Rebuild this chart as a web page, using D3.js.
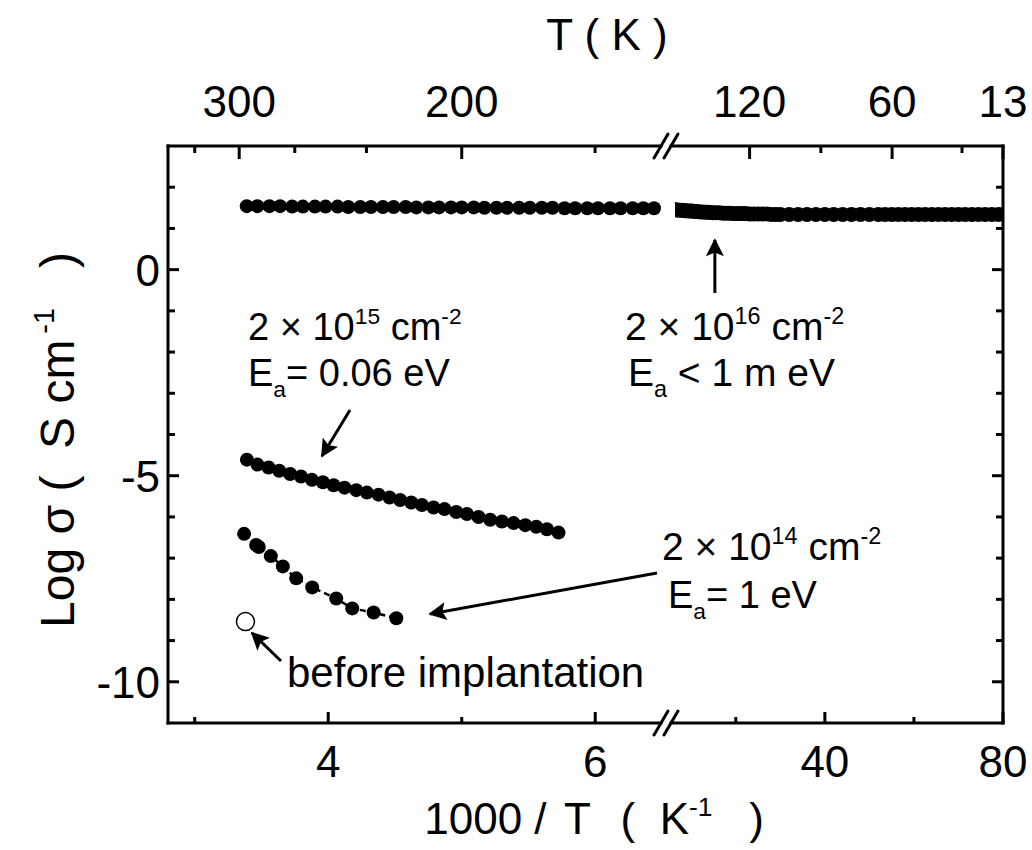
<!DOCTYPE html>
<html><head><meta charset="utf-8">
<script src="https://cdn.jsdelivr.net/npm/d3@7"></script>
<style>
html,body{margin:0;padding:0;background:#fff;}
svg{display:block;font-family:"Liberation Sans",Arial,sans-serif;}
svg text{white-space:pre;}
</style></head>
<body>
<svg id="chart" width="1032" height="850"></svg>
<script>
// ---------------- data ----------------
// 2e16 cm^-2, left (linear) segment
const hiDoseLeftX = [3.39,3.47,3.56,3.64,3.73,3.81,3.90,3.98,4.07,4.15,4.24,4.32,4.41,4.49,4.58,4.66,4.75,4.83,4.92,5.00,5.09,5.17,5.26,5.34,5.43,5.51,5.60,5.68,5.77,5.85,5.94,6.02,6.11,6.19,6.28,6.36,6.44];
const hiDoseLeftY = [1.54,1.54,1.54,1.54,1.53,1.53,1.53,1.53,1.53,1.52,1.52,1.52,1.52,1.52,1.52,1.51,1.51,1.51,1.51,1.51,1.51,1.50,1.50,1.50,1.50,1.50,1.50,1.50,1.49,1.49,1.49,1.49,1.49,1.49,1.49,1.49,1.49];
// 2e16 cm^-2, right segment (low temperature)
const hiDoseRightX = [5.5,6.0,6.5,7.0,7.5,8.0,8.5,9.0,9.6,10.2,10.8,11.4,12.0,12.7,13.4,14.1,14.8,15.5,16.3,17.1,17.9,18.7,19.5,20.4,21.3,22.2,23.1,24.0,25.0,26.0,27.0,28.0,29.0,30.0,32.0,34.0,36.0,38.0,40.0,42.0,44.0,46.0,48.0,50.0,52.0,53.5,55.0,56.5,58.0,59.5,61.0,62.5,64.0,65.5,67.0,68.5,70.0,71.5,73.0,74.5,76.0,77.5,79.0,80.5];
const hiDoseRightY = [1.46,1.46,1.45,1.45,1.44,1.44,1.43,1.43,1.42,1.42,1.41,1.41,1.40,1.40,1.39,1.39,1.38,1.38,1.38,1.37,1.37,1.37,1.36,1.36,1.36,1.36,1.35,1.35,1.35,1.35,1.35,1.34,1.34,1.34,1.34,1.34,1.34,1.34,1.34,1.34,1.34,1.34,1.34,1.34,1.34,1.34,1.34,1.34,1.34,1.34,1.34,1.34,1.34,1.34,1.34,1.34,1.34,1.34,1.34,1.34,1.34,1.34,1.34,1.34];
// 2e15 cm^-2
const midDoseX = [3.391,3.470,3.553,3.633,3.715,3.796,3.878,3.960,4.040,4.122,4.210,4.290,4.377,4.459,4.539,4.622,4.702,4.789,4.871,4.959,5.039,5.126,5.213,5.301,5.388,5.476,5.558,5.638,5.725];
const midDoseY = [-4.61,-4.73,-4.80,-4.88,-4.96,-5.02,-5.10,-5.16,-5.23,-5.29,-5.35,-5.41,-5.46,-5.53,-5.59,-5.65,-5.71,-5.77,-5.81,-5.88,-5.93,-6.00,-6.07,-6.11,-6.15,-6.20,-6.24,-6.30,-6.38];
// 2e14 cm^-2
const lowDoseX = [3.37,3.46,3.48,3.57,3.66,3.76,3.88,4.06,4.18,4.34,4.51];
const lowDoseY = [-6.41,-6.68,-6.73,-6.95,-7.20,-7.49,-7.71,-7.98,-8.22,-8.32,-8.46];
// before implantation
const virginX = [3.38];
const virginY = [-8.54];

// axes ticks
const yMajorTicks = [0,-5,-10];
const yMinorTicks = [2,1,-1,-2,-3,-4,-6,-7,-8,-9];
const xLeftMajor = [4,6];
const xLeftMinor = [3,5];
const xRightMajor = [40,80];
const xRightMinor = [20,60];
// top axis: T (K)
const topLeftMajorT = [300,200];
const topLeftMinorT = [333.3,266.7,233.3,166.7];
const topRightMajorPos = [23.1,55.1,80];
const topRightMajorLabels = ["120","60","13"];
const topRightMinorPos = [39.1,70.8];

// ---------------- layout ----------------
const svg = d3.select("#chart");
const L = 168, R = 1003, T = 146, B = 723;
const brkL = 661, brkR = 671, brkC = 666;
const xL = d3.scaleLinear().domain([2.8,6.5]).range([L,662]);
const xR = d3.scaleLinear().domain([5,80]).range([669,R]);
const y = d3.scaleLinear().domain([-11,3]).range([B,T]);
const FS = 44;
const lw = 3;

const defs = svg.append("defs");
defs.append("clipPath").attr("id","clipL").append("rect").attr("x",L).attr("y",T).attr("width",brkC-L).attr("height",B-T);
defs.append("clipPath").attr("id","clipR").append("rect").attr("x",675).attr("y",T).attr("width",R-675).attr("height",B-T);
defs.append("marker").attr("id","ah").attr("viewBox","0 0 10 10").attr("refX",9).attr("refY",5)
  .attr("markerWidth",8).attr("markerHeight",6).attr("markerUnits","strokeWidth").attr("orient","auto")
  .append("path").attr("d","M0,0 L10,5 L0,10 L2,5 Z").attr("fill","#000");

// ---------------- frame ----------------
const ax = svg.append("g").attr("stroke","#000").attr("stroke-width",lw).attr("fill","none").attr("stroke-linecap","square");
ax.append("line").attr("x1",L).attr("x2",L).attr("y1",T).attr("y2",B);
ax.append("line").attr("x1",R).attr("x2",R).attr("y1",T).attr("y2",B);
[B,T].forEach(yy=>{
  ax.append("line").attr("x1",L).attr("x2",brkL).attr("y1",yy).attr("y2",yy);
  ax.append("line").attr("x1",brkR).attr("x2",R).attr("y1",yy).attr("y2",yy);
});
const bk = svg.append("g").attr("stroke","#000").attr("stroke-width",lw).attr("stroke-linecap","round");
[B,T].forEach(yy=>{
  [-5,5].forEach(dx=>{
    bk.append("line").attr("x1",brkC+dx-7).attr("y1",yy+12).attr("x2",brkC+dx+7).attr("y2",yy-12);
  });
});

// ticks (inward)
const tk = svg.append("g").attr("stroke","#000").attr("stroke-width",lw);
yMajorTicks.forEach(v=>{
  tk.append("line").attr("x1",L).attr("x2",L+11).attr("y1",y(v)).attr("y2",y(v));
  tk.append("line").attr("x1",R).attr("x2",R-11).attr("y1",y(v)).attr("y2",y(v));
});
yMinorTicks.forEach(v=>{
  tk.append("line").attr("x1",L).attr("x2",L+7).attr("y1",y(v)).attr("y2",y(v));
  tk.append("line").attr("x1",R).attr("x2",R-7).attr("y1",y(v)).attr("y2",y(v));
});
xLeftMajor.forEach(v=>tk.append("line").attr("x1",xL(v)).attr("x2",xL(v)).attr("y1",B).attr("y2",B-11));
xLeftMinor.forEach(v=>tk.append("line").attr("x1",xL(v)).attr("x2",xL(v)).attr("y1",B).attr("y2",B-6));
xRightMajor.forEach(v=>tk.append("line").attr("x1",xR(v)).attr("x2",xR(v)).attr("y1",B).attr("y2",B-11));
xRightMinor.forEach(v=>tk.append("line").attr("x1",xR(v)).attr("x2",xR(v)).attr("y1",B).attr("y2",B-6));
topLeftMajorT.forEach(t=>tk.append("line").attr("x1",xL(1000/t)).attr("x2",xL(1000/t)).attr("y1",T).attr("y2",T+13));
topLeftMinorT.forEach(t=>tk.append("line").attr("x1",xL(1000/t)).attr("x2",xL(1000/t)).attr("y1",T).attr("y2",T+7));
topRightMajorPos.forEach(p=>tk.append("line").attr("x1",xR(p)).attr("x2",xR(p)).attr("y1",T).attr("y2",T+13));
topRightMinorPos.forEach(p=>tk.append("line").attr("x1",xR(p)).attr("x2",xR(p)).attr("y1",T).attr("y2",T+7));

// tick labels
const lab = svg.append("g").attr("font-size",FS).attr("fill","#000");
yMajorTicks.forEach(v=>lab.append("text").attr("x",L-8).attr("y",y(v)+16).attr("text-anchor","end").text(v));
xLeftMajor.forEach(v=>lab.append("text").attr("x",xL(v)).attr("y",B+54).attr("text-anchor","middle").text(v));
xRightMajor.forEach(v=>lab.append("text").attr("x",xR(v)).attr("y",B+54).attr("text-anchor","middle").text(v));
topLeftMajorT.forEach(t=>lab.append("text").attr("x",xL(1000/t)).attr("y",T-29).attr("text-anchor","middle").text(t));
topRightMajorPos.forEach((p,i)=>lab.append("text").attr("x",xR(p)).attr("y",T-29).attr("text-anchor","middle").text(topRightMajorLabels[i]));

// rich text helper
function rich(g, x, yb, parts, size){
  const t = g.append("text").attr("x",x).attr("y",yb).attr("font-size",size).attr("fill","#000");
  let shift = 0;
  parts.forEach(p=>{
    const target = p.sup ? -0.42*size : (p.sub ? 0.28*size : 0);
    const ts = t.append("tspan").attr("dy", target-shift).text(p.t);
    if(p.sup||p.sub) ts.attr("font-size", size*0.6);
    if(p.dx) ts.attr("dx", p.dx);
    shift = target;
  });
  return t;
}

// axis titles
const tt = svg.append("g");
rich(tt, 594, 834, [{t:"1000 / "},{t:"T",dx:6},{t:"  (",dx:6},{t:"  K"},{t:"-1",sup:true},{t:"   )"}], FS).attr("text-anchor","middle");
tt.append("text").attr("x",607).attr("y",50).attr("text-anchor","middle").attr("font-size",FS).text("T ( K )");
const yl = tt.append("g").attr("transform","translate(74,440) rotate(-90)");
rich(yl, 0, 0, [{t:"Log σ (  S cm"},{t:"-1",sup:true,dx:6},{t:"   )"}], 48).attr("text-anchor","middle");

// ---------------- data marks ----------------
const gl = svg.append("g").attr("clip-path","url(#clipL)");
const gr = svg.append("g").attr("clip-path","url(#clipR)");
const R0 = 7;
gl.selectAll("c.a").data(hiDoseLeftX).enter().append("circle")
  .attr("cx",(d)=>xL(d)).attr("cy",(d,i)=>y(hiDoseLeftY[i])).attr("r",R0).attr("fill","#000");
gr.selectAll("c.b").data(hiDoseRightX).enter().append("circle")
  .attr("cx",(d)=>xR(d)).attr("cy",(d,i)=>y(hiDoseRightY[i])).attr("r",R0+0.5).attr("fill","#000");
gl.selectAll("c.m").data(midDoseX).enter().append("circle")
  .attr("cx",(d)=>xL(d)).attr("cy",(d,i)=>y(midDoseY[i])).attr("r",R0).attr("fill","#000");
gl.append("path").datum(lowDoseX.map((d,i)=>[d,lowDoseY[i]]))
  .attr("d",d3.line().x(d=>xL(d[0])).y(d=>y(d[1])))
  .attr("fill","none").attr("stroke","#000").attr("stroke-width",2.5).attr("stroke-dasharray","6,4");
gl.selectAll("c.l").data(lowDoseX).enter().append("circle")
  .attr("cx",(d)=>xL(d)).attr("cy",(d,i)=>y(lowDoseY[i])).attr("r",R0).attr("fill","#000");
gl.selectAll("c.v").data(virginX).enter().append("circle")
  .attr("cx",(d)=>xL(d)).attr("cy",(d,i)=>y(virginY[i])).attr("r",9).attr("fill","#fff").attr("stroke","#000").attr("stroke-width",1.5);

// ---------------- annotations ----------------
const an = svg.append("g");
rich(an, 248, 340, [{t:"2 × 10"},{t:"15",sup:true},{t:" cm"},{t:"-2",sup:true}], 38);
rich(an, 248, 386, [{t:"E"},{t:"a",sub:true},{t:"= 0.06 eV"}], 38);
rich(an, 625, 340, [{t:"2 × 10"},{t:"16",sup:true},{t:" cm"},{t:"-2",sup:true}], 39);
rich(an, 628, 386, [{t:"E"},{t:"a",sub:true},{t:" < 1 m eV"}], 39);
rich(an, 662, 560, [{t:"2 × 10"},{t:"14",sup:true},{t:" cm"},{t:"-2",sup:true}], 39);
rich(an, 668, 608, [{t:"E"},{t:"a",sub:true},{t:"= 1 eV"}], 38);
an.append("text").attr("x",287).attr("y",687).attr("font-size",42).text("before implantation");

const ar = svg.append("g").attr("stroke","#000").attr("stroke-width",3).attr("marker-end","url(#ah)");
function arrow(x1,y1,x2,y2){ ar.append("line").attr("x1",x1).attr("y1",y1).attr("x2",x2).attr("y2",y2); }
arrow(350,410,322,456);
arrow(xR(15.3),293,xR(15.3),240);
arrow(657,573,430,614);
arrow(281,661,252,633);
</script>
</body></html>
